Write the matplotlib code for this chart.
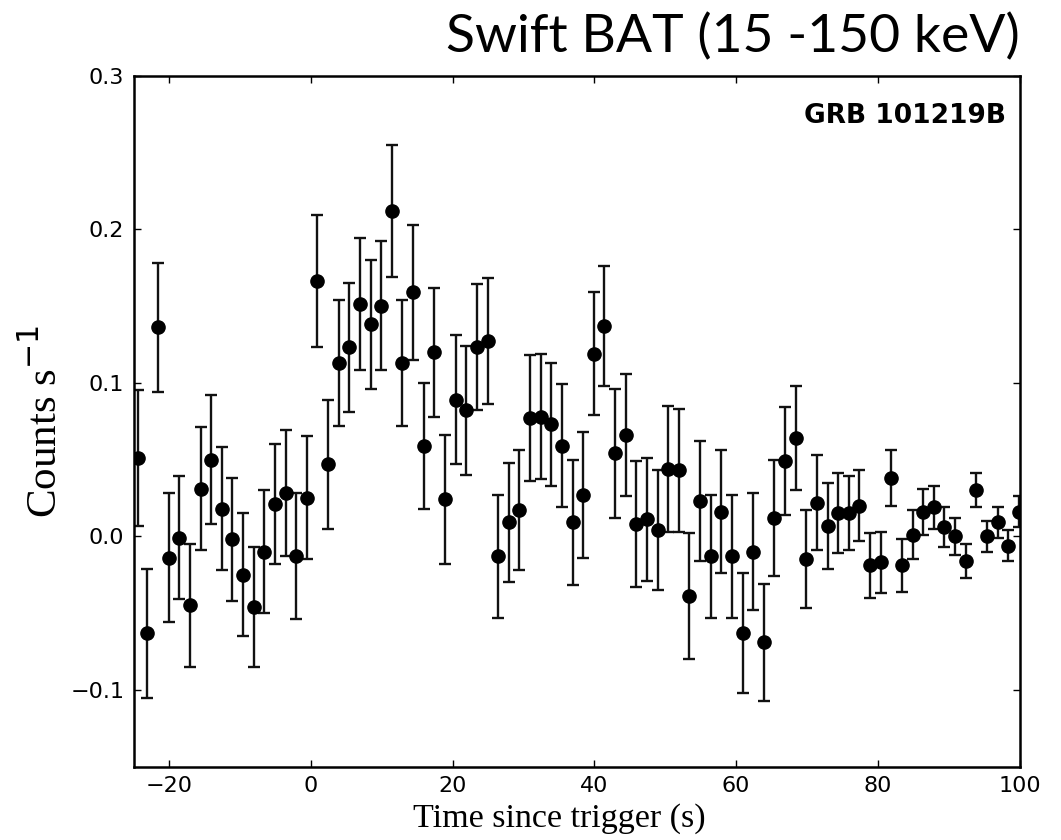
import numpy as np
import matplotlib as mpl
mpl.use('Agg')
import matplotlib.pyplot as plt

##################
# Light curve data #
##################

# time since trigger (s)
t_sec = [-24.5, -23.1, -21.6, -20.1, -18.6, -17.1, -15.6, -14.1, -12.6, -11.1,
         -9.6, -8.1, -6.6, -5.1, -3.6, -2.1, -0.6, 0.9, 2.4, 3.9,
         5.4, 6.9, 8.4, 9.9, 11.4, 12.9, 14.4, 15.9, 17.4, 18.9,
         20.4, 21.9, 23.4, 24.9, 26.4, 27.9, 29.4, 30.9, 32.4, 33.9,
         35.4, 36.9, 38.4, 39.9, 41.4, 42.9, 44.4, 45.9, 47.4, 48.9,
         50.4, 51.9, 53.4, 54.9, 56.4, 57.9, 59.4, 60.9, 62.4, 63.9,
         65.4, 66.9, 68.4, 69.9, 71.4, 72.9, 74.4, 75.9, 77.4, 78.9,
         80.4, 81.9, 83.4, 84.9, 86.4, 87.9, 89.4, 90.9, 92.4, 93.9,
         95.4, 96.9, 98.4, 99.9]

# count rate (counts / s)
rate = [0.051, -0.063, 0.136, -0.014, -0.001, -0.045, 0.031, 0.050, 0.018, -0.002,
        -0.025, -0.046, -0.010, 0.021, 0.028, -0.013, 0.025, 0.166, 0.047, 0.113,
        0.123, 0.151, 0.138, 0.150, 0.212, 0.113, 0.159, 0.059, 0.120, 0.024,
        0.089, 0.082, 0.123, 0.127, -0.013, 0.009, 0.017, 0.077, 0.078, 0.073,
        0.059, 0.009, 0.027, 0.119, 0.137, 0.054, 0.066, 0.008, 0.011, 0.004,
        0.044, 0.043, -0.039, 0.023, -0.013, 0.016, -0.013, -0.063, -0.010, -0.069,
        0.012, 0.049, 0.064, -0.015, 0.022, 0.007, 0.015, 0.015, 0.020, -0.019,
        -0.017, 0.038, -0.019, 0.001, 0.016, 0.019, 0.006, 0.000, -0.016, 0.030,
        0.000, 0.009, -0.006, 0.016]

# 1-sigma errors
rate_err = [0.044, 0.042, 0.042, 0.042, 0.040, 0.040, 0.040, 0.042, 0.040, 0.040,
            0.040, 0.039, 0.040, 0.039, 0.041, 0.041, 0.040, 0.043, 0.042, 0.041,
            0.042, 0.043, 0.042, 0.042, 0.043, 0.041, 0.044, 0.041, 0.042, 0.042,
            0.042, 0.042, 0.041, 0.041, 0.040, 0.039, 0.039, 0.041, 0.041, 0.040,
            0.040, 0.041, 0.041, 0.040, 0.039, 0.042, 0.040, 0.041, 0.040, 0.039,
            0.041, 0.040, 0.041, 0.039, 0.040, 0.040, 0.040, 0.039, 0.038, 0.038,
            0.038, 0.035, 0.034, 0.032, 0.031, 0.028, 0.026, 0.024, 0.023, 0.021,
            0.020, 0.018, 0.017, 0.016, 0.015, 0.014, 0.013, 0.012, 0.011, 0.011,
            0.010, 0.010, 0.010, 0.010]

x_ticks = [-20, 0, 20, 40, 60, 80, 100]
y_ticks = [-0.1, 0.0, 0.1, 0.2, 0.3]

############
# Plotting #
############

mpl.rcParams['mathtext.fontset'] = 'dejavusans'

fig = plt.figure(figsize=(10.61, 8.40), dpi=100)
ax = fig.add_axes([0.1263, 0.0873, 0.8346, 0.8227])

ax.errorbar(t_sec, rate, yerr=rate_err, fmt='o', color='black', ecolor='#111111',
            markersize=9.5, elinewidth=1.7, capsize=4.5, capthick=1.7, clip_on=True)

ax.set_xlim(-25, 100)
ax.set_ylim(-0.15, 0.3)
ax.set_xticks(x_ticks)
ax.set_yticks(y_ticks)
ax.set_yticklabels(['\u22120.1', '0.0', '0.1', '0.2', '0.3'])
ax.set_xticklabels(['\u221220', '0', '20', '40', '60', '80', '100'])

ax.tick_params(direction='in', top=True, right=True, length=5, width=1,
               labelsize=16, pad=7)
for sp in ax.spines.values():
    sp.set_linewidth(1.8)

# labels placed by hand in figure pixels to match the original layout
fig.text(0.527, 1 - 827 / 840, 'Time since trigger (s)', ha='center', va='baseline',
         family='Liberation Serif', fontsize=24.5)
ax.set_ylabel(r'Counts s$^{-1}$', family='Liberation Serif', fontsize=31)
ax.yaxis.set_label_coords(-0.077, 0.5)

ax.text(0.985, 0.96, 'GRB 101219B', transform=ax.transAxes, ha='right', va='top',
        fontsize=19, fontweight='bold', family='DejaVu Sans')

fig.text(0.961, 0.938, 'Swift BAT (15 -150 keV)', ha='right', va='baseline',
         fontsize=38.5, family='Lato')

fig.savefig('out.png', dpi=100)
